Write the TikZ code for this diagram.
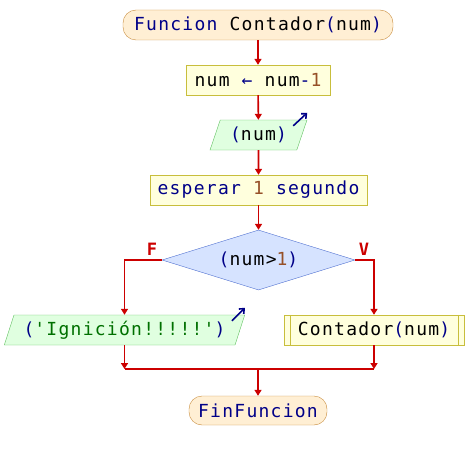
\documentclass[tikz,border=0pt]{standalone}
\usepackage{fontspec}
\setmonofont[LetterSpace=7]{DejaVu Sans Mono}
\usetikzlibrary{shapes.geometric}
\usetikzlibrary{arrows.meta}
\definecolor{flowred}{RGB}{204,0,0}
\definecolor{kwblue}{RGB}{0,0,136}
\definecolor{numbrown}{RGB}{150,80,40}
\definecolor{strgreen}{RGB}{0,112,0}
\definecolor{termfill}{RGB}{255,239,212}
\definecolor{termline}{RGB}{200,140,60}
\definecolor{procfill}{RGB}{255,255,221}
\definecolor{procline}{RGB}{200,190,60}
\definecolor{iofill}{RGB}{224,255,224}
\definecolor{ioline}{RGB}{96,192,96}
\definecolor{condfill}{RGB}{214,227,255}
\definecolor{condline}{RGB}{80,112,208}
\newcommand{\kw}[1]{\textcolor{kwblue}{#1}}
\newcommand{\nm}[1]{\textcolor{numbrown}{#1}}
\newcommand{\str}[1]{\textcolor{strgreen}{#1}}
\tikzset{
  every node/.style={font=\ttfamily\fontsize{18}{20}\selectfont},
  termbox/.style={draw=termline,fill=termfill,rounded corners=13pt,minimum height=30pt,inner sep=2pt},
  procbox/.style={draw=procline,fill=procfill,minimum height=30pt,inner sep=2pt},
  iobox/.style={trapezium,trapezium left angle=68,trapezium right angle=112,trapezium stretches=true,
    draw=ioline,fill=iofill,minimum height=30pt,inner sep=2pt},
  condbox/.style={diamond,aspect=3.2,draw=condline,fill=condfill,minimum width=193pt,minimum height=60pt,inner sep=0pt},
  flow/.style={draw=flowred,line width=1.6pt,-{Triangle[width=7pt,length=6pt]}},
  joinline/.style={draw=flowred,line width=1.6pt},
  outmark/.style={draw=kwblue,line width=1.6pt,-{Straight Barb[width=7pt,length=4pt]}},
  branch/.style={text=flowred,font=\ttfamily\bfseries\fontsize{17}{18}\selectfont}
}
\begin{document}
\begin{tikzpicture}[x=1pt,y=-1pt]
\useasboundingbox (0,0) rectangle (474,460);
% shapes
\node[termbox,minimum width=270pt] (start) at (258,25) {\kw{Funcion} Contador\kw{(}num\kw{)}};
\node[procbox,minimum width=144pt] (assign) at (258,80) {num \kw{←} num\kw{-}\nm{1}};
\node[iobox,minimum width=97pt] (out) at (258.5,135) {\kw{(}num\kw{)}};
\node[procbox,minimum width=217pt] (wait) at (258.5,190) {\kw{esperar} \nm{1} \kw{segundo}};
\node[condbox] (cond) at (258.5,260) {\kw{(}num>\nm{1}\kw{)}};
\node[iobox,minimum width=241pt] (ign) at (124.5,330) {\kw{(}\str{'Ignición!!!!!'}\kw{)}};
\node[procbox,minimum width=180pt] (sub) at (374,330) {Contador\kw{(}num\kw{)}};
\draw[procline] ([xshift=6pt]sub.north west) -- ([xshift=6pt]sub.south west);
\draw[procline] ([xshift=-6pt]sub.north east) -- ([xshift=-6pt]sub.south east);
\node[termbox,minimum width=138pt,minimum height=29pt] (fin) at (258,410.5) {\kw{FinFuncion}};
\node[branch] (flab) at (152,249) {F};
\node[branch] (vlab) at (364,249) {V};
% output marks
\draw[outmark] ([xshift=-14pt,yshift=-6pt]out.top right corner) -- ([yshift=7pt]out.top right corner);
\draw[outmark] ([xshift=-13pt,yshift=-6pt]ign.top right corner) -- ([yshift=7pt]ign.top right corner);
% connectors
\draw[flow] (start) -- (assign);
\draw[flow] (assign) -- (out);
\draw[flow] (out) -- (wait);
\draw[flow] (wait) -- (cond);
\draw[flow] (cond.west) -| (ign.center |- ign.north);
\draw[flow] (cond.east) -| (sub.north);
\coordinate (join) at (258,369);
\draw[flow] (ign.center |- ign.south) -- (ign.center |- join);
\draw[flow] (sub.south) -- (sub.center |- join);
\draw[joinline] (ign.center |- join) -- (sub.center |- join);
\draw[flow] (join) -- (fin.north);
\end{tikzpicture}
\end{document}
